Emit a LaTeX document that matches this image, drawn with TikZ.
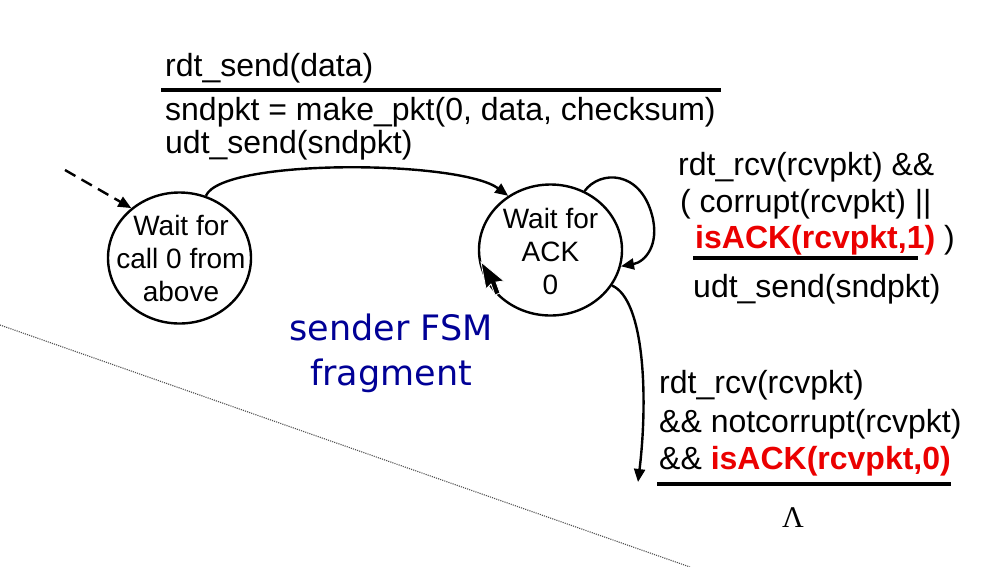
\documentclass[tikz,border=0pt]{standalone}
\usepackage{fontspec}
\setmainfont{Liberation Sans}
\newfontfamily\verd{DejaVu Sans}
\newfontfamily\serifgr{Liberation Serif}
\usetikzlibrary{arrows.meta,shapes.geometric}
\definecolor{fsmblue}{RGB}{0,0,150}
\definecolor{ackred}{RGB}{235,0,0}
\definecolor{dotgray}{RGB}{80,80,80}
\begin{document}
\begin{tikzpicture}[x=1pt,y=-1pt,
  txt/.style={inner sep=0pt,anchor=base west,font=\fontsize{32}{36}\selectfont},
  state/.style={ellipse,draw,line width=2.4pt,minimum width=143pt,minimum height=131pt,
    inner sep=0pt},
  stext/.style={inner sep=0pt,align=center,font=\fontsize{28}{33}\selectfont},
  tr/.style={line width=2.4pt,-{Triangle[length=13pt,width=11pt]}},
  bar/.style={line width=3.8pt},
  bluetxt/.style={inner sep=0pt,anchor=base,text=fsmblue,font=\verd\fontsize{35}{40}\selectfont}]
\useasboundingbox[fill=white] (0,0) rectangle (995,566);

% diagonal dotted line
\coordinate (d1) at (0,325);
\coordinate (d2) at (690,567);
\draw[line width=1.1pt,dash pattern=on 1.1pt off 1.1pt,dotgray] (d1) -- (d2);

% states
\node[state] (L) at (179.5,258) {};
\node[stext] (Lt) at (181,258) {Wait for\\call 0 from\\above};
\node[state] (R) at (550.5,250) {};
\node[stext] (Rt) at (550.5,251) {Wait for\\ACK\\0};

% top transition label
\node[txt] (g1) at (165,76) {rdt\_send(data)};
\coordinate (b1s) at (161,90);
\coordinate (b1e) at (721,90);
\draw[bar] (b1s) -- (b1e);
\node[txt] (a1) at (165,120) {sndpkt = make\_pkt(0, data, checksum)};
\node[txt] (a2) at (165,153) {udt\_send(sndpkt)};

% self-loop label
\node[txt] (g2) at (678,175) {rdt\_rcv(rcvpkt) \&\&};
\node[txt] (g3) at (680,212) {( corrupt(rcvpkt) ||};
\node[txt] (g4) at (695,248) {\textcolor{ackred}{\bfseries isACK(rcvpkt,1)} )};
\coordinate (b2s) at (693,258);
\coordinate (b2e) at (918,258);
\draw[bar] (b2s) -- (b2e);
\node[txt] (a3) at (693,297) {udt\_send(sndpkt)};

% bottom label
\node[txt] (g5) at (659,393) {rdt\_rcv(rcvpkt)};
\node[txt] (g6) at (659,432) {\&\& notcorrupt(rcvpkt)};
\node[txt] (g7) at (659,469) {\&\& \textcolor{ackred}{\bfseries isACK(rcvpkt,0)}};
\coordinate (b3s) at (657,484);
\coordinate (b3e) at (951,484);
\draw[bar] (b3s) -- (b3e);
\node[inner sep=0pt,anchor=base,font=\serifgr\fontsize{30}{30}\selectfont] (lam) at (793,527) {Λ};

% blue caption
\node[bluetxt] (c1) at (391,340) {sender FSM};
\node[bluetxt] (c2) at (391,385) {fragment};

% connectors
\coordinate (init) at (65,170);
\draw[tr,dash pattern=on 12pt off 7pt] (init) -- (L.134);
\draw[tr] (L.67) .. controls (222,158) and (460,160) .. (R.128);
\draw[tr] (R.60) .. controls (600,170) and (640,170) .. (652,215)
              .. controls (660,245) and (645,262) .. (R.-13);
\coordinate (e0) at (638,482);
\draw[tr] (R.-30) .. controls (645,300) and (648,400) .. (e0);

% mouse pointer
\fill[black,draw=white,line width=0.8pt] (481,262) -- (486,289) -- (491,284) -- (495,295)
  -- (500,293) -- (496,282) -- (504,281) -- cycle;
\end{tikzpicture}
\end{document}
